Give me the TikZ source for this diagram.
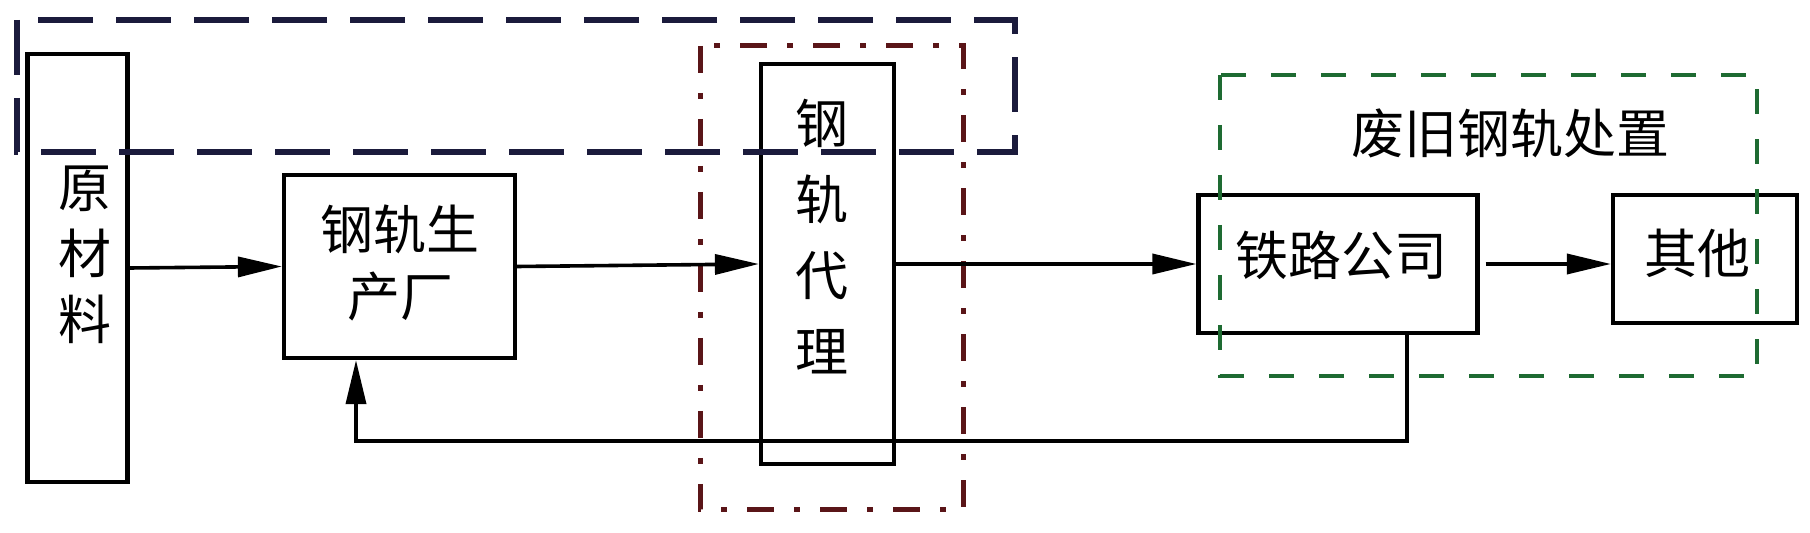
\documentclass[tikz,border=0pt]{standalone}
\usepackage{fontspec}
\setmainfont{Noto Sans CJK SC}
\usetikzlibrary{arrows.meta}
\definecolor{navyc}{HTML}{1B1B3C}
\definecolor{redc}{HTML}{5A1518}
\definecolor{greenc}{HTML}{1E6B32}
\tikzset{
  boxn/.style={draw, line width=2.1pt, inner sep=0pt},
  lbl/.style={inner sep=0pt, align=center, font=\fontsize{26.5pt}{33pt}\selectfont},
  arr/.style={line width=1.8pt, -{Triangle[length=22pt,width=10pt]}},
  navydash/.style={draw=navyc, line width=2.7pt, dash pattern=on 27.5pt off 11.5pt},
  reddash/.style={draw=redc, line width=2.5pt, dash pattern=on 13.5pt off 10pt on 3pt off 10pt},
  greendash/.style={draw=greenc, line width=2.4pt, dash pattern=on 12.5pt off 12.5pt},
}
\begin{document}
\begin{tikzpicture}[x=0.5pt,y=-0.5pt]
\useasboundingbox (0,0) rectangle (1810,533);
% boxes
\node[boxn, minimum width=50pt, minimum height=214pt] (raw) at (77.5,268) {};
\node[boxn, minimum width=115.5pt, minimum height=91.5pt] (factory) at (399.5,266.5) {};
\node[boxn, minimum width=66.5pt, minimum height=200pt] (agent) at (827.5,264) {};
\node[boxn, minimum width=139.5pt, minimum height=69pt] (railway) at (1338,264) {};
\node[boxn, minimum width=92pt, minimum height=64pt] (other) at (1705,259) {};
% texts
\node[lbl] (rawt) at (85,255) {原\\材\\料};
\node[lbl, font=\fontsize{26.5pt}{33.5pt}\selectfont] (factoryt) at (400,262.5) {钢轨生\\产厂};
\node[lbl, font=\fontsize{26.5pt}{38pt}\selectfont] (agentt) at (822,236.5) {钢\\轨\\代\\理};
\node[lbl] (railwayt) at (1341,255) {铁路公司};
\node[lbl] (othert) at (1697,253) {其他};
\node[lbl] (title) at (1510,133) {废旧钢轨处置};
% group frames
\draw[navydash] (17,20) rectangle (1015,152);
\draw[reddash] (700,46) rectangle (963,510);
\draw[greendash] (1220,75) rectangle (1757,376);
% connectors
\draw[arr] (raw.east) -- (factory.west);
\draw[arr] (factory.east) -- (agent.west);
\draw[arr] (agent.east) -- (railway.west);
\draw[arr, shorten <=3pt] (railway.east) -- (railway.east -| other.west);
\coordinate (fb1) at (1407,441);
\coordinate (fb2) at (356,441);
\draw[arr] (fb1 |- railway.south) -- (fb1) -- (fb2) -- (fb2 |- factory.south);
\end{tikzpicture}
\end{document}
